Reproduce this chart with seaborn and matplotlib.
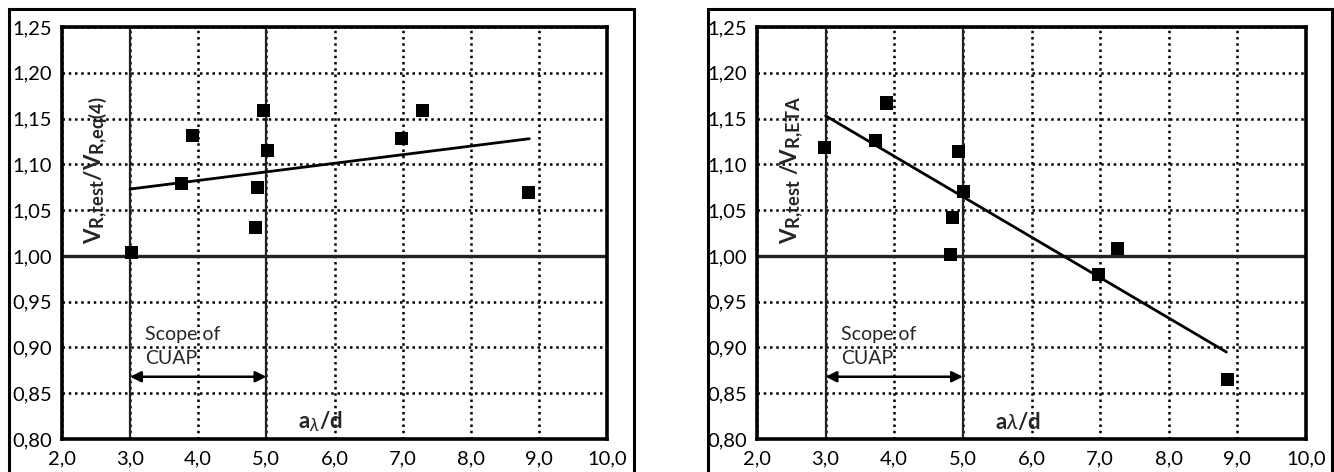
import numpy as np
import pandas as pd
import seaborn as sns
import matplotlib
import matplotlib.pyplot as plt
from matplotlib.patches import Rectangle

# left panel: V_R,test / V_R,eq(4)
a_d_eq4 = [3.02, 3.76, 3.91, 4.84, 4.87, 4.96, 5.02, 6.99, 7.29, 8.85]
ratio_eq4 = [1.004, 1.079, 1.131, 1.031, 1.075, 1.159, 1.115, 1.128, 1.159, 1.069]
trend_x_eq4 = [3.0, 8.86]
trend_y_eq4 = [1.073, 1.128]

# right panel: V_R,test / V_R,ETA
a_d_eta = [2.99, 3.72, 3.88, 4.82, 4.85, 4.94, 5.01, 6.97, 7.26, 8.85]
ratio_eta = [1.118, 1.126, 1.167, 1.002, 1.042, 1.114, 1.070, 0.980, 1.008, 0.865]
trend_x_eta = [3.0, 8.84]
trend_y_eta = [1.153, 0.895]

x_ticks = [2, 3, 4, 5, 6, 7, 8, 9, 10]
y_ticks = [0.80, 0.85, 0.90, 0.95, 1.00, 1.05, 1.10, 1.15, 1.20, 1.25]

sns.set_style('white')
plt.rcParams['font.family'] = ['Lato', 'DejaVu Sans']
plt.rcParams['mathtext.fontset'] = 'custom'
plt.rcParams['mathtext.rm'] = 'Lato'
plt.rcParams['mathtext.bf'] = 'Lato:bold'
plt.rcParams['mathtext.it'] = 'Lato:italic'
plt.rcParams['mathtext.fallback'] = 'stixsans'
# Excel-style subscripts are only a bit smaller than the main text
matplotlib._mathtext.SHRINK_FACTOR = 0.82

W, H = 1334, 472
fig = plt.figure(figsize=(W / 100, H / 100), dpi=100)


def px_box(x0, x1, ytop, ybot):
    return [x0 / W, 1 - ybot / H, (x1 - x0) / W, (ybot - ytop) / H]


# outer frames (open at the bottom, cropped in the original)
for fx0, fx1 in [(9, 634), (708, 1332)]:
    fig.patches.append(Rectangle((fx0 / W, -0.2), (fx1 - fx0) / W, 0.2 + 1 - 9 / H,
                                 transform=fig.transFigure, fill=False,
                                 edgecolor='black', linewidth=2.2))

panels = [
    (px_box(62, 607, 27, 439), a_d_eq4, ratio_eq4, trend_x_eq4, trend_y_eq4,
     r'$\mathbf{V_{R{,}test}/V_{R{,}eq(4)}}$', r'$\mathbf{a}_{\lambda}\mathbf{/d}$'),
    (px_box(757, 1306, 27, 439), a_d_eta, ratio_eta, trend_x_eta, trend_y_eta,
     r'$\mathbf{V_{R{,}test}\ /V_{R{,}ETA}}$', r'$\mathbf{a}\lambda\mathbf{/d}$'),
]

for box, xs, ys, tx, ty, ylab, xlab in panels:
    ax = fig.add_axes(box)
    ax.set_xlim(2, 10)
    ax.set_ylim(0.80, 1.25)
    ax.set_xticks(x_ticks)
    ax.set_yticks(y_ticks)
    ax.set_xticklabels([f'{v:.1f}'.replace('.', ',') for v in x_ticks])
    ax.set_yticklabels([f'{v:.2f}'.replace('.', ',') for v in y_ticks])
    ax.tick_params(axis='both', direction='out', length=5, width=2, labelsize=14.5,
                   color='black', labelcolor='black', pad=2)
    ax.tick_params(axis='x', pad=3)
    ax.grid(True, color='black', linestyle=(0, (1, 1.5)), linewidth=1.8)
    for sp in ax.spines.values():
        sp.set_color('black')
        sp.set_linewidth(2.6)

    # reference lines
    ax.axvline(3.0, color='#222222', linewidth=1.6, zorder=2)
    ax.axvline(5.0, color='#222222', linewidth=1.6, zorder=2)
    ax.axhline(1.0, color='#222222', linewidth=2.4, zorder=2)

    df = pd.DataFrame({'x': xs, 'y': ys})
    sns.scatterplot(data=df, x='x', y='y', marker='s', s=88, color='black',
                    edgecolor='none', ax=ax, zorder=4)
    tr = pd.DataFrame({'x': tx, 'y': ty})
    sns.lineplot(data=tr, x='x', y='y', color='black', linewidth=2, ax=ax, zorder=3)
    ax.set_xlabel('')
    ax.set_ylabel('')

    ax.text(2.5, 1.094, ylab, rotation=90, ha='center', va='center', fontsize=16)
    ax.text(5.8, 0.819, xlab, ha='center', va='center', fontsize=16)

    ax.text(3.22, 0.901, 'Scope of\nCUAP', ha='left', va='center', fontsize=14,
            linespacing=1.45)
    ax.annotate('', xy=(3.0, 0.868), xytext=(5.0, 0.868),
                arrowprops=dict(arrowstyle='<|-|>', color='black', lw=1.8,
                                mutation_scale=16, shrinkA=0, shrinkB=0))

fig.savefig('out.png', dpi=100)
